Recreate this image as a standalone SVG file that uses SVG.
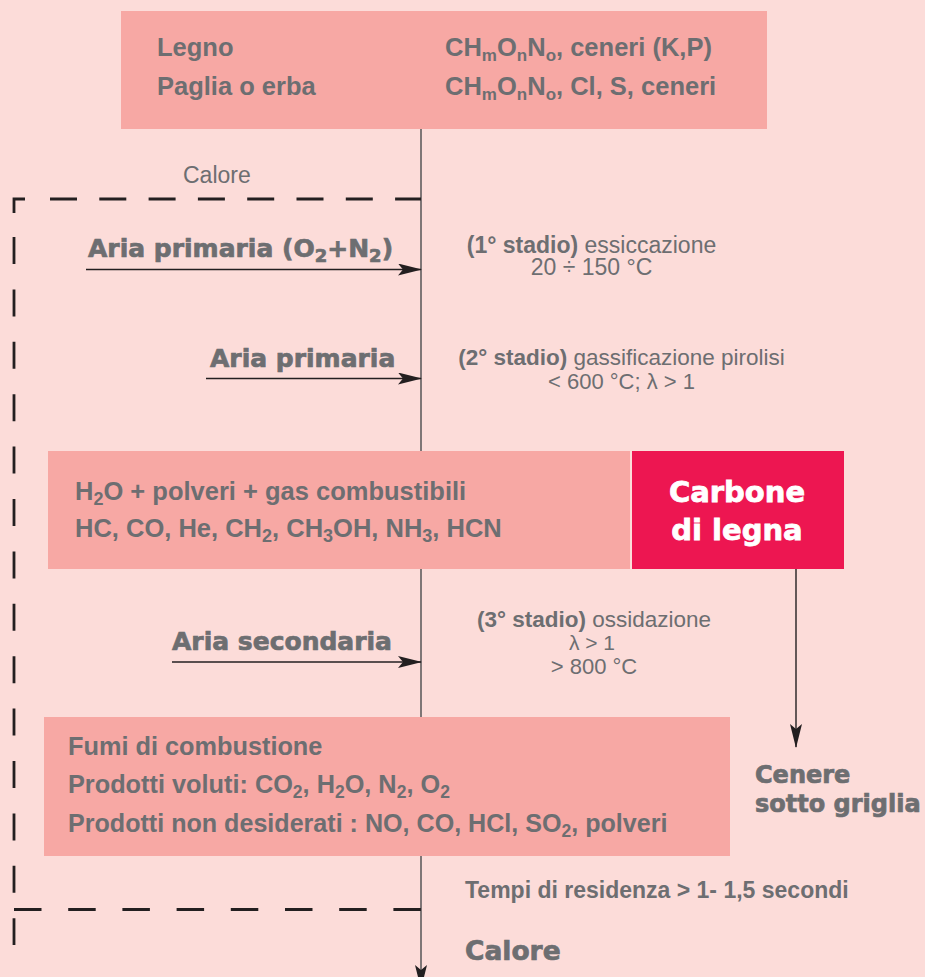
<svg xmlns="http://www.w3.org/2000/svg" width="925" height="977" viewBox="0 0 925 977">
<defs>
<style>
.bg{fill:#fcdcd9}
.box{fill:#f7a8a4}
.t{font-family:"Liberation Sans",Arial,sans-serif;fill:#6d6e71}
.b{font-weight:bold}
.r{font-size:23px}
.bx{font-size:25.5px;font-weight:bold}
.hv{font-family:"DejaVu Sans",sans-serif;font-weight:bold;fill:#6d6e71;stroke:#6d6e71;stroke-width:0.7}
.wh{fill:#ffffff;stroke:#ffffff;stroke-width:0.8}
.dash{stroke:#231f20;stroke-width:2.8;fill:none}
.ar{stroke:#231f20;stroke-width:1.4;fill:none}
.main{stroke:#4a4a4c;stroke-width:1.4;fill:none}
</style>
<marker id="ah" markerUnits="userSpaceOnUse" viewBox="0 0 24 12" refX="23" refY="6" markerWidth="24" markerHeight="12" orient="auto">
<path d="M0,0 L24,6 L0,12 L5,6 Z" fill="#231f20"/>
</marker>
</defs>
<rect class="bg" x="0" y="0" width="925" height="977"/>

<g id="connectors">
<line class="main" x1="421" y1="129" x2="421" y2="988" marker-end="url(#ah)"/>
<line class="ar" x1="86" y1="269.5" x2="421" y2="269.5" marker-end="url(#ah)"/>
<line class="ar" x1="206" y1="378.5" x2="421" y2="378.5" marker-end="url(#ah)"/>
<line class="ar" x1="172" y1="662" x2="421" y2="662" marker-end="url(#ah)"/>
<line class="ar" x1="796" y1="569" x2="796" y2="747" marker-end="url(#ah)"/>
</g>

<g id="boundary">
<path class="dash" d="M14,213 V199 H25"/>
<line class="dash" x1="50" y1="199" x2="421" y2="199" stroke-dasharray="27 22.3"/>
<line class="dash" x1="14" y1="237" x2="14" y2="945" stroke-dasharray="27 25.4"/>
<line class="dash" x1="14" y1="909.5" x2="421" y2="909.5" stroke-dasharray="27.5 26.7"/>
</g>

<g id="biomassa">
<rect class="box" x="121" y="11" width="646" height="118"/>
<text class="t bx" x="157" y="56">Legno</text>
<text class="t bx" x="157" y="95">Paglia o erba</text>
<text class="t bx" x="445" y="56">CH<tspan font-size="17" dy="5">m</tspan><tspan dy="-5">O</tspan><tspan font-size="17" dy="5">n</tspan><tspan dy="-5">N</tspan><tspan font-size="17" dy="5">o</tspan><tspan dy="-5">, ceneri (K,P)</tspan></text>
<text class="t bx" x="445" y="95">CH<tspan font-size="17" dy="5">m</tspan><tspan dy="-5">O</tspan><tspan font-size="17" dy="5">n</tspan><tspan dy="-5">N</tspan><tspan font-size="17" dy="5">o</tspan><tspan dy="-5">, Cl, S, ceneri</tspan></text>
</g>

<g id="calore-top">
<text class="t r" x="183" y="183">Calore</text>
</g>

<g id="aria1">
<text class="hv" x="88" y="257" font-size="25">Aria primaria (O<tspan font-size="18" dy="5">2</tspan><tspan dy="-5">+N</tspan><tspan font-size="18" dy="5">2</tspan><tspan dy="-5">)</tspan></text>
</g>
<g id="aria2">
<text class="hv" x="210" y="367" font-size="25">Aria primaria</text>
</g>
<g id="aria3">
<text class="hv" x="172" y="650" font-size="25">Aria secondaria</text>
</g>

<g id="stadio1">
<text class="t r" x="591.5" y="253" text-anchor="middle"><tspan class="b">(1° stadio)</tspan> essiccazione</text>
<text class="t r" x="591.5" y="275" text-anchor="middle">20 ÷ 150 °C</text>
</g>
<g id="stadio2">
<text class="t" font-size="22.5" x="621.5" y="365" text-anchor="middle"><tspan class="b">(2° stadio)</tspan> gassificazione pirolisi</text>
<text class="t" font-size="22" x="621.5" y="389" text-anchor="middle">&lt; 600 °C; λ &gt; 1</text>
</g>
<g id="stadio3">
<text class="t" font-size="22.5" x="594" y="627" text-anchor="middle"><tspan class="b">(3° stadio)</tspan> ossidazione</text>
<text class="t" font-size="21" x="592" y="650" text-anchor="middle">λ &gt; 1</text>
<text class="t" font-size="22" x="594" y="674" text-anchor="middle">&gt; 800 °C</text>
</g>

<g id="gas">
<rect class="box" x="48" y="451" width="582" height="118"/>
<text class="t bx" x="75" y="500">H<tspan font-size="18" dy="5">2</tspan><tspan dy="-5">O + polveri + gas combustibili</tspan></text>
<text class="t bx" x="75" y="537">HC, CO, He, CH<tspan font-size="18" dy="5">2</tspan><tspan dy="-5">, CH</tspan><tspan font-size="18" dy="5">3</tspan><tspan dy="-5">OH, NH</tspan><tspan font-size="18" dy="5">3</tspan><tspan dy="-5">, HCN</tspan></text>
</g>

<g id="carbone">
<rect x="632" y="451" width="212" height="118" fill="#ed1651"/>
<text class="hv wh" x="737" y="502" font-size="29" text-anchor="middle">Carbone</text>
<text class="hv wh" x="737" y="540" font-size="29" text-anchor="middle">di legna</text>
</g>

<g id="fumi">
<rect class="box" x="44" y="717" width="686" height="139"/>
<text class="t b" x="68" y="755" font-size="25.3">Fumi di combustione</text>
<text class="t b" x="68" y="793" font-size="25.3">Prodotti voluti: CO<tspan font-size="17.5" dy="5">2</tspan><tspan dy="-5">, H</tspan><tspan font-size="17.5" dy="5">2</tspan><tspan dy="-5">O, N</tspan><tspan font-size="17.5" dy="5">2</tspan><tspan dy="-5">, O</tspan><tspan font-size="17.5" dy="5">2</tspan></text>
<text class="t b" x="68" y="832" font-size="25.1">Prodotti non desiderati : NO, CO, HCl, SO<tspan font-size="17.5" dy="5">2</tspan><tspan dy="-5">, polveri</tspan></text>
</g>

<g id="cenere">
<text class="hv" x="755" y="783" font-size="24">Cenere</text>
<text class="hv" x="755" y="812" font-size="24">sotto griglia</text>
</g>

<g id="tempi">
<text class="t b" x="465" y="898" font-size="23">Tempi di residenza &gt; 1- 1,5 secondi</text>
</g>

<g id="calore-out">
<text class="hv" x="465" y="960" font-size="26.5">Calore</text>
</g>
</svg>
